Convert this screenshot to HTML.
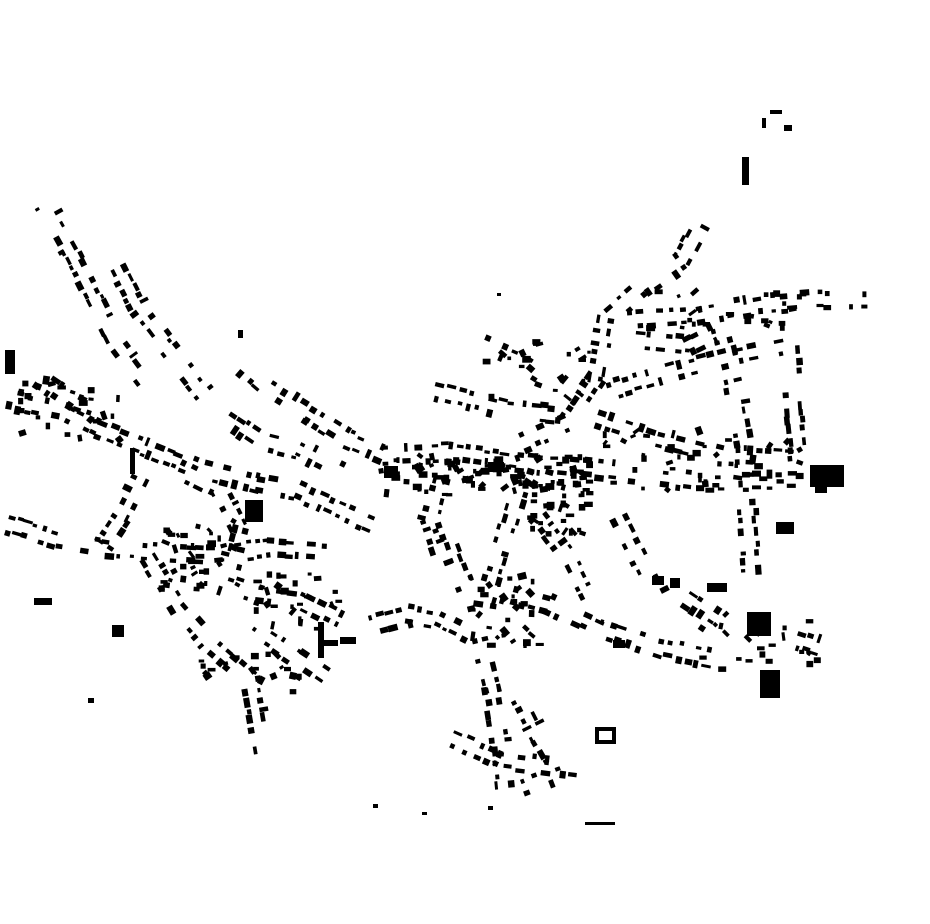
<!DOCTYPE html>
<html><head><meta charset="utf-8"><style>
html,body{margin:0;padding:0;background:#fff;width:930px;height:924px;overflow:hidden}
svg{display:block}
</style></head><body>
<svg id="m" width="930" height="924" viewBox="0 0 930 924" xmlns="http://www.w3.org/2000/svg">
<g fill="#000">
<rect x="810" y="465" width="34" height="22"/><rect x="815" y="485" width="12" height="8"/>
<rect x="747" y="612" width="24" height="24"/><rect x="760" y="670" width="20" height="28"/>
<rect x="742" y="157" width="7" height="28"/><rect x="5" y="350" width="10" height="24"/>
<rect x="776" y="522" width="18" height="12"/><rect x="707" y="583" width="20" height="9"/>
<rect x="652" y="576" width="12" height="9"/><rect x="670" y="578" width="10" height="10"/>
<rect x="245" y="500" width="18" height="22"/><rect x="112" y="625" width="12" height="12"/>
<rect x="34" y="598" width="18" height="7"/><rect x="595" y="727" width="20" height="4"/><rect x="595" y="740" width="20" height="4"/><rect x="595" y="727" width="4" height="17"/><rect x="612" y="727" width="4" height="17"/>
<rect x="318" y="622" width="6" height="36"/><rect x="320" y="640" width="18" height="6"/><rect x="340" y="637" width="16" height="7"/>
<rect x="488" y="462" width="16" height="10"/><rect x="384" y="466" width="14" height="12"/><rect x="613" y="640" width="12" height="8"/>
<rect x="770" y="110" width="12" height="4"/><rect x="762" y="118" width="4" height="10"/><rect x="784" y="125" width="8" height="6"/>
<rect x="88" y="698" width="6" height="5"/><rect x="373" y="804" width="5" height="4"/><rect x="422" y="812" width="5" height="3"/><rect x="488" y="806" width="5" height="4"/><rect x="585" y="822" width="30" height="3"/><rect x="497" y="293" width="4" height="3"/><rect x="238" y="330" width="5" height="8"/><rect x="130" y="448" width="5" height="26"/>
</g>
<g id="b" fill="#000"></g>
</svg>
<script>
var s=12345;function r(){s=(s*16807)%2147483647;return s/2147483647;}
var roads=[
[[45,205],[70,250],[95,300],[120,350],[150,390]],
[[120,270],[140,310],[170,350],[205,395]],
[[10,400],[60,410],[100,430],[150,450],[200,470],[260,485],[300,492],[340,510],[375,525]],
[[235,360],[270,390],[310,415],[350,440],[385,455],[450,452],[520,462],[600,470],[700,482],[800,482]],
[[10,525],[60,540],[110,548],[160,552],[210,555],[270,548],[330,552]],
[[525,470],[510,520],[498,560],[485,605],[480,640],[492,690],[500,740],[505,790]],
[[372,625],[410,615],[440,620],[470,635]],
[[700,225],[680,262],[640,290],[605,320],[595,380],[565,425],[520,445]],
[[630,320],[700,315],[760,305],[820,300],[880,300]],
[[600,420],[660,440],[720,455],[800,460]],
[[495,590],[550,605],[600,628],[660,648],[720,660]],
[[610,390],[680,370],[740,355],[790,345]],
[[485,345],[520,360],[560,385],[585,405]],
[[150,560],[180,610],[215,650],[250,680],[262,750]],
[[215,580],[260,595],[300,600],[340,620]],
[[270,640],[300,660],[330,680]],
[[720,330],[735,390],[745,450],[748,520],[752,580]],
[[790,350],[795,420],[800,470]],
[[140,480],[120,520],[100,550]],
[[230,420],[260,440],[300,450],[340,470]],
[[440,520],[455,560],[470,600]],
[[540,520],[570,560],[590,600]],
[[620,520],[640,560],[660,600]],
[[520,700],[540,740],[560,775],[520,790]],
[[455,740],[500,760],[580,770]],
[[40,380],[70,400],[100,410]],
[[800,640],[830,650]],
[[180,470],[220,490],[240,530],[230,570]],
[[430,390],[470,400],[510,410],[560,415]],
[[640,340],[690,345],[720,330]],
[[690,600],[720,620],[750,650]],
[[440,480],[430,520],[440,550]]
];
var g=document.getElementById('b'),h='';
function rect(x,y,w,hh,ang){h+='<rect x="'+(x-w/2).toFixed(1)+'" y="'+(y-hh/2).toFixed(1)+'" width="'+w.toFixed(1)+'" height="'+hh.toFixed(1)+'" transform="rotate('+ang.toFixed(1)+' '+x.toFixed(1)+' '+y.toFixed(1)+')"/>';}
roads.forEach(function(pl){
 for(var i=0;i<pl.length-1;i++){
  var a=pl[i],c=pl[i+1],dx=c[0]-a[0],dy=c[1]-a[1],L=Math.hypot(dx,dy),ang=Math.atan2(dy,dx)*180/Math.PI;
  var nx=-dy/L,ny=dx/L;
  for(var t=0;t<L;t+=7+r()*7){
   for(var sd=-1;sd<=1;sd+=2){
    if(r()<0.35)continue;
    var off=5+r()*4,x=a[0]+dx*t/L+nx*off*sd,y=a[1]+dy*t/L+ny*off*sd;
    rect(x,y,4+r()*6,3+r()*3.5,ang+(r()<0.25?90:0));
   }
  }
 }
});
var zones=[[380,455,220,40,90],[520,475,70,60,40],[470,570,70,80,30],[160,520,80,70,40],[20,380,100,60,25],[600,430,200,60,40],[250,570,90,60,25],[640,290,180,40,25],[480,340,120,60,20],[200,640,100,60,20],[700,620,120,50,20]];
zones.forEach(function(z){for(var k=0;k<z[4];k++){rect(z[0]+r()*z[2],z[1]+r()*z[3],3+r()*6,3+r()*4,r()<0.5?0:(r()*180));}});
g.innerHTML=h;
</script>
</body></html>
